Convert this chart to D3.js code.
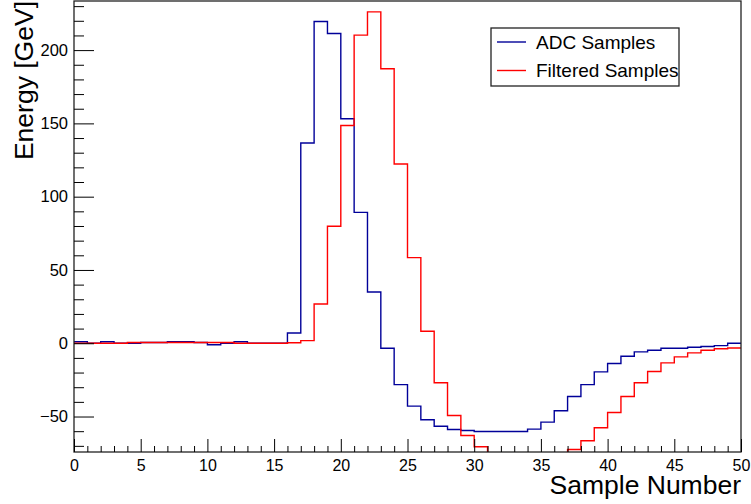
<!DOCTYPE html>
<html>
<head>
<meta charset="utf-8">
<script src="https://cdn.jsdelivr.net/npm/d3@7"></script>
<style>
  body { margin: 0; background: #fff; }
  text { font-family: "Liberation Sans", Arial, sans-serif; fill: #000; }
</style>
</head>
<body>
<svg id="chart" width="751" height="504"></svg>
<script>
// sample numbers (bin lower edges)
const samples = d3.range(0, 50);

// ADC samples, one value per bin
const adcValues = [
  1, 0, 1, 0, 0, 0.5, 0.5, 1, 1, 0.5,
  -1, 0, 1, 0, 0, 0, 7, 136.6, 219.5, 211.3,
  153.2, 89.3, 35, -3.4, -28.2, -42.9, -52.2, -56.6, -58.8, -59.5,
  -60.2, -60.2, -60.2, -60.2, -58.6, -53.8, -46.1, -36.3, -28.2, -19.5,
  -13.8, -8.9, -5.9, -4.8, -3.4, -3.4, -2.7, -2.2, -1.6, 0
];

// filtered samples
const filteredValues = [
  0, 0, 0, 0, 0.5, 0.5, 0.5, 0.5, 0.5, 0.5,
  0.5, 0.5, 0, 0, 0, 0, 0.3, 1.8, 26.8, 79.8,
  148.6, 210.2, 226.1, 187.3, 122.3, 58.4, 8.2, -27, -49.3, -62.9,
  -70.6, -77, -77.5, -77.5, -77.5, -77, -76, -72.5, -66.5, -57.7,
  -47.2, -36.3, -27, -19.3, -13.4, -9.3, -6.6, -4.8, -3.8, -3.2
];

const xTicks = d3.range(0, 51, 5);
const yTicks = [-50, 0, 50, 100, 150, 200];

const seriesNames = ['ADC Samples', 'Filtered Samples'];
const colors = { 'ADC Samples': '#000099', 'Filtered Samples': '#ff0000' };

const margin = { left: 74, right: 10, top: 1, bottom: 52 };
const width = 751, height = 504;

const svg = d3.select('#chart');

const x = d3.scaleLinear().domain([0, 50]).range([margin.left, width - margin.right]);
const y = d3.scaleLinear().domain([-74.2, 233.5]).range([height - margin.bottom, margin.top]);

svg.append('defs').append('clipPath').attr('id', 'frame-clip')
  .append('rect')
  .attr('x', x(0)).attr('y', y(233.5))
  .attr('width', x(50) - x(0)).attr('height', y(-74.2) - y(233.5));

// histograms drawn as steps
const step = d3.line()
  .x((d) => x(d[0]))
  .y((d) => y(d[1]))
  .curve(d3.curveStepAfter);

function histPoints(values) {
  const pts = samples.map((s, i) => [s, values[i]]);
  pts.push([50, values[values.length - 1]]);
  return pts;
}

const plot = svg.append('g').attr('clip-path', 'url(#frame-clip)');
[['ADC Samples', adcValues], ['Filtered Samples', filteredValues]].forEach(([name, vals]) => {
  plot.append('path')
    .datum(histPoints(vals))
    .attr('d', step)
    .attr('fill', 'none')
    .attr('stroke', colors[name])
    .attr('stroke-width', 1.4);
});

// frame
svg.append('rect')
  .attr('x', x(0)).attr('y', y(233.5))
  .attr('width', x(50) - x(0)).attr('height', y(-74.2) - y(233.5))
  .attr('fill', 'none')
  .attr('stroke', '#222')
  .attr('stroke-width', 1.3);

// x axis, ticks pointing up into frame
const xAxis = d3.axisBottom(x)
  .tickValues(xTicks)
  .tickSize(-13)
  .tickFormat(d3.format('d'))
  .tickPadding(8);
const gx = svg.append('g')
  .attr('transform', `translate(0, ${y(-74.2)})`)
  .call(xAxis);
gx.select('.domain').remove();
gx.selectAll('.tick line').attr('stroke', '#000');
gx.selectAll('.tick text').attr('font-size', 16).attr('font-family', 'Liberation Sans, Arial, sans-serif');

const xMinor = d3.axisBottom(x)
  .tickValues(d3.range(0, 51).filter((d) => d % 5 !== 0))
  .tickSize(-6)
  .tickFormat('');
svg.append('g')
  .attr('transform', `translate(0, ${y(-74.2)})`)
  .call(xMinor)
  .call((g) => g.select('.domain').remove());

// y axis, ticks pointing right into frame
const yAxis = d3.axisLeft(y)
  .tickValues(yTicks)
  .tickSize(-20)
  .tickPadding(6)
  .tickFormat((d) => (d < 0 ? '\u2212' + Math.abs(d) : d));
const gy = svg.append('g')
  .attr('transform', `translate(${x(0)}, 0)`)
  .call(yAxis);
gy.select('.domain').remove();
gy.selectAll('.tick text').attr('font-size', 16.5).attr('font-family', 'Liberation Sans, Arial, sans-serif');

const yMinor = d3.axisLeft(y)
  .tickValues(d3.range(-70, 231, 10).filter((d) => d % 50 !== 0))
  .tickSize(-10)
  .tickFormat('');
svg.append('g')
  .attr('transform', `translate(${x(0)}, 0)`)
  .call(yMinor)
  .call((g) => g.select('.domain').remove());

// axis titles
svg.append('text')
  .attr('x', x(50))
  .attr('y', 494)
  .attr('text-anchor', 'end')
  .attr('font-size', 26.5)
  .text('Sample Number');

svg.append('text')
  .attr('transform', 'translate(33, 1) rotate(-90)')
  .attr('text-anchor', 'end')
  .attr('font-size', 26.5)
  .text('Energy [GeV]');

// Legend
const legend = svg.append('g').classed('legend', true).attr('transform', 'translate(491, 28)');
legend.append('rect')
  .attr('width', 188)
  .attr('height', 58)
  .attr('fill', '#fff')
  .attr('stroke', '#222')
  .attr('stroke-width', 1.3);
legend.selectAll('.legend-item')
  .data(seriesNames)
  .join('g')
  .classed('legend-item', true)
  .attr('transform', (d, i) => `translate(0, ${14 + 28.5 * i})`)
  .call((g) =>
    g.append('line')
      .attr('x1', 6).attr('x2', 35)
      .attr('stroke', (d) => colors[d])
      .attr('stroke-width', 1.4),
  )
  .call((g) =>
    g.append('text')
      .attr('x', 45)
      .attr('y', 6.5)
      .attr('font-size', 19)
      .text((d) => d),
  );
</script>
</body>
</html>
